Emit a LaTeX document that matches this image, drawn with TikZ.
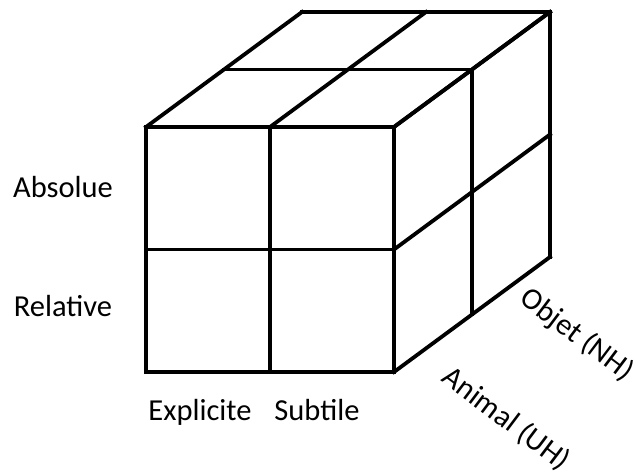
\documentclass[tikz,border=0pt]{standalone}
\usepackage{fontspec}
\setmainfont{Carlito}
\usepackage{tikz}
\tikzset{
    cubeline/.style={line width=3.8pt, line cap=rect, line join=miter},
    axislabel/.style={anchor=base, align=center, font=\fontsize{30.5}{36}\selectfont}
}

\begin{document}
\begin{tikzpicture}[x=1pt, y=1pt]
    \useasboundingbox (0, 0) rectangle (637, 474);
    % A 2x2x2 cube seen in oblique view.
    \begin{scope}[cubeline]
        % front face
        \foreach \i in {0, 0.5, 1} {
            \draw (146 + 248*\i, 102) -- ++(0, 245);
            \draw (146, 102 + 245*\i) -- ++(248, 0);
        }
        % top face
        \foreach \i in {0, 0.5, 1} {
            \draw (146 + 248*\i, 347) -- ++(156, 115);
            \draw (146 + 156*\i, 347 + 115*\i) -- ++(248, 0);
        }
        % right face
        \foreach \i in {0, 0.5, 1} {
            \draw (394 + 156*\i, 102 + 115*\i) -- ++(0, 245);
            \draw (394, 102 + 245*\i) -- ++(156, 115);
        }
    \end{scope}
    \node[axislabel] (absolue) at (63, 276) {Absolue};
    \node[axislabel] (relative) at (63, 157) {Relative};
    \node[axislabel] (explicite) at (200, 54) {Explicite};
    \node[axislabel] (subtile) at (317, 54) {Subtile};
    \node[axislabel, anchor=center, rotate=-37] (objet) at (577, 139) {Objet (NH)};
    \node[axislabel, anchor=center, rotate=-37] (animal) at (506, 55) {Animal (UH)};
\end{tikzpicture}
\end{document}
